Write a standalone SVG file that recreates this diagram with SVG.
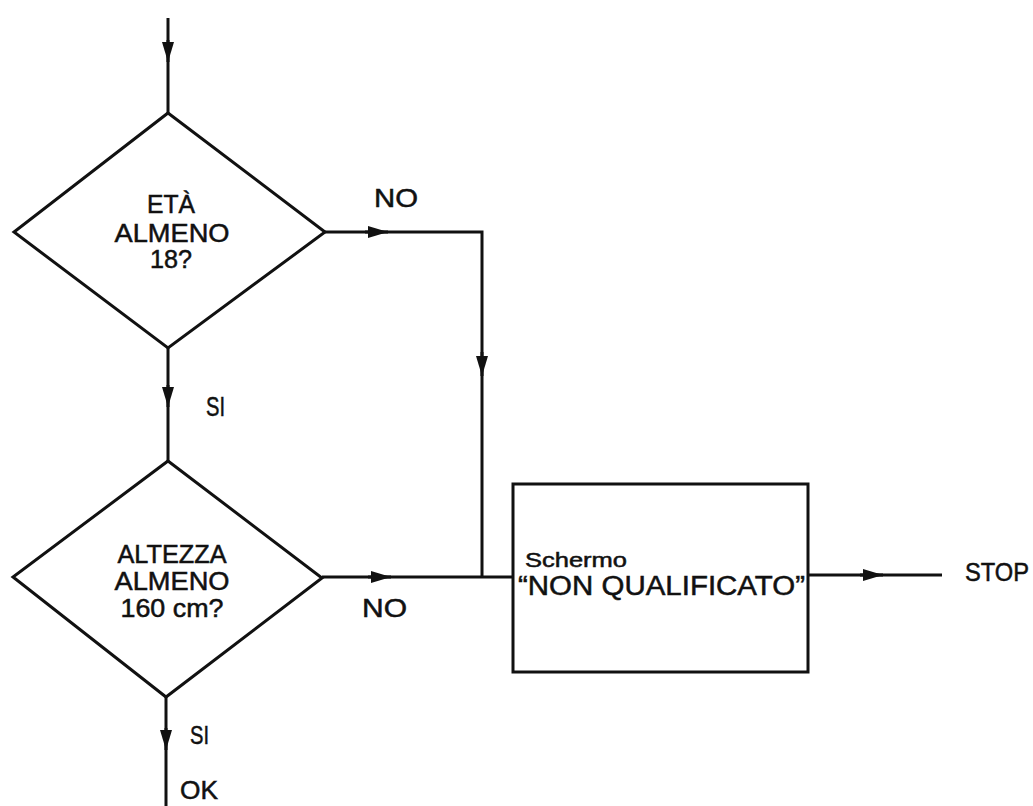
<svg xmlns="http://www.w3.org/2000/svg" width="1033" height="806" viewBox="0 0 1033 806">
<style>
.ln{fill:none;stroke:#111;stroke-width:3;stroke-linejoin:miter}
.shape{fill:#fff;stroke:#111;stroke-width:3;stroke-linejoin:miter}
.t{font-family:"Liberation Sans",Arial,sans-serif;fill:#111;stroke:#111;stroke-width:0.5}
.c{text-anchor:middle}
.ah{fill:#111;stroke:none}
</style>
<defs>
<marker id="arr" viewBox="0 0 20 12" refX="20" refY="6" markerWidth="20" markerHeight="12" markerUnits="userSpaceOnUse" orient="auto">
<path d="M0,0 L20,6 L0,12 z" class="ah"/>
</marker>
</defs>
<rect width="1033" height="806" fill="#fff"/>
<g id="connectors">
<line class="ln" x1="168" y1="18" x2="168" y2="113"/>
<line class="ln" x1="168" y1="40" x2="168" y2="62" marker-end="url(#arr)"/>
<line class="ln" x1="168" y1="348" x2="168" y2="461"/>
<line class="ln" x1="168" y1="385" x2="168" y2="407" marker-end="url(#arr)"/>
<polyline class="ln" points="325,232 482,232 482,577"/>
<line class="ln" x1="365" y1="232" x2="388" y2="232" marker-end="url(#arr)"/>
<line class="ln" x1="482" y1="352" x2="482" y2="376" marker-end="url(#arr)"/>
<line class="ln" x1="322" y1="577" x2="513" y2="577"/>
<line class="ln" x1="368" y1="577" x2="391" y2="577" marker-end="url(#arr)"/>
<line class="ln" x1="808" y1="575" x2="942" y2="575"/>
<line class="ln" x1="860" y1="575" x2="883" y2="575" marker-end="url(#arr)"/>
<line class="ln" x1="166" y1="697" x2="166" y2="806"/>
<line class="ln" x1="166" y1="728" x2="166" y2="750" marker-end="url(#arr)"/>
<text class="t" x="374" y="207" font-size="26" textLength="44" lengthAdjust="spacingAndGlyphs">NO</text>
<text class="t" x="206" y="416" font-size="27" textLength="19" lengthAdjust="spacingAndGlyphs">SI</text>
<text class="t" x="362" y="617" font-size="26" textLength="45" lengthAdjust="spacingAndGlyphs">NO</text>
<text class="t" x="965" y="581" font-size="25" textLength="64" lengthAdjust="spacingAndGlyphs">STOP</text>
<text class="t" x="190" y="744" font-size="26" textLength="19" lengthAdjust="spacingAndGlyphs">SI</text>
<text class="t" x="180" y="799" font-size="25" textLength="38" lengthAdjust="spacingAndGlyphs">OK</text>
</g>
<g id="q1">
<polygon class="shape" points="168,113 325,232 168,348 14,232"/>
<text class="t c" x="171" y="213" font-size="25" textLength="48" lengthAdjust="spacingAndGlyphs">ETÀ</text>
<text class="t c" x="172" y="242" font-size="25" textLength="115" lengthAdjust="spacingAndGlyphs">ALMENO</text>
<text class="t c" x="171" y="268" font-size="25" textLength="42" lengthAdjust="spacingAndGlyphs">18?</text>
</g>
<g id="q2">
<polygon class="shape" points="168,461 322,578 166,697 13,577"/>
<text class="t c" x="172" y="563" font-size="25" textLength="109" lengthAdjust="spacingAndGlyphs">ALTEZZA</text>
<text class="t c" x="172" y="590" font-size="25" textLength="115" lengthAdjust="spacingAndGlyphs">ALMENO</text>
<text class="t c" x="172" y="617" font-size="25" textLength="103" lengthAdjust="spacingAndGlyphs">160 cm?</text>
</g>
<g id="box">
<rect class="shape" x="513" y="484" width="295" height="188"/>
<text class="t" x="525" y="567" font-size="20" textLength="102" lengthAdjust="spacingAndGlyphs">Schermo</text>
<text class="t" x="518" y="595" font-size="27" textLength="287" lengthAdjust="spacingAndGlyphs">“NON QUALIFICATO”</text>
</g>
</svg>
